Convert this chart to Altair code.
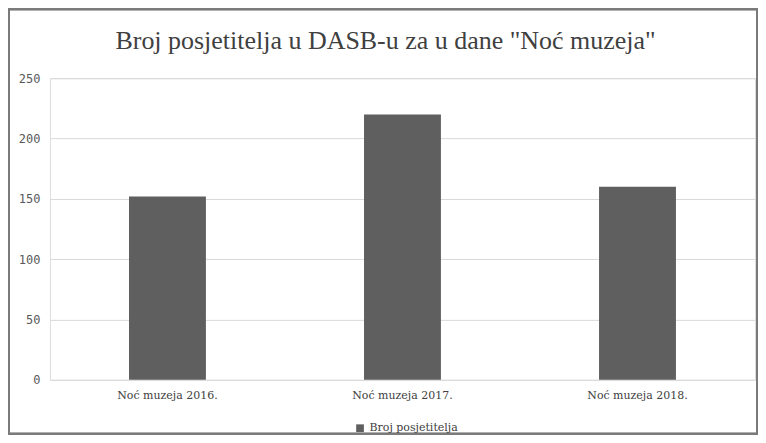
import altair as alt
import pandas as pd

categories = ["Noć muzeja 2016.", "Noć muzeja 2017.", "Noć muzeja 2018."]
values = [152, 220, 160]
series = "Broj posjetitelja"
title_text = 'Broj posjetitelja u DASB-u za u dane "Noć muzeja"'

df = pd.DataFrame({"cat": categories, "val": values, "series": [series] * 3})
tdf = pd.DataFrame({"t": [title_text]})

bars = alt.Chart(df).mark_bar(size=77).encode(
    x=alt.X("cat:N", sort=categories, title=None,
            scale=alt.Scale(paddingInner=0, paddingOuter=0),
            axis=alt.Axis(labelAngle=0, ticks=False, domain=False, labelFont="DejaVu Serif",
                          labelFontSize=11, labelColor="#404040", labelPadding=10)),
    y=alt.Y("val:Q", title=None, scale=alt.Scale(domain=[0, 250]),
            axis=alt.Axis(values=[0, 50, 100, 150, 200, 250], ticks=False, domain=False,
                          gridColor="#d9d9d9", labelFont="DejaVu Sans Mono", labelFontSize=12,
                          labelColor="#595959", labelPadding=10)),
    color=alt.Color("series:N", scale=alt.Scale(range=["#5f5f5f"]), title=None,
                    legend=alt.Legend(orient="none", legendX=305, legendY=345, symbolType="square",
                                      symbolSize=60, labelFont="DejaVu Serif",
                                      labelFontSize=11, labelColor="#404040")),
)

title = alt.Chart(tdf).mark_text(font="Liberation Serif", fontSize=26, color="#404040",
                                 align="center", baseline="middle").encode(
    text="t:N", x=alt.value(336), y=alt.value(-37)
)

border = alt.Chart(df).mark_rect(fill=None, stroke="#7a7a7a", strokeWidth=2).encode(
    x=alt.value(-41), x2=alt.value(708), y=alt.value(-69), y2=alt.value(356)
)

chart = alt.layer(border, bars, title).properties(
    width=706, height=302,
    padding=0,
).configure_view(stroke=None).configure(background="white")

chart.save("out.html", embed_options={"renderer": "svg", "actions": False})
